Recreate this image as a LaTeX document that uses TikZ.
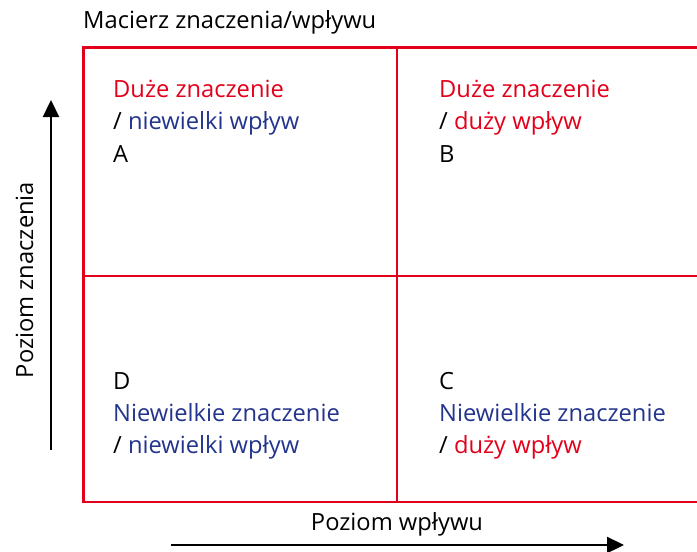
\documentclass[tikz,border=0pt]{standalone}
\usepackage{fontspec}
\setmainfont{Open Sans}
\usetikzlibrary{arrows.meta}
\definecolor{mred}{RGB}{226,0,26}
\definecolor{mblue}{RGB}{35,52,140}
\tikzset{
  grid/.style={draw=mred,line width=2.8pt},
  txt/.style={anchor=base west,inner sep=0pt,font=\fontsize{23.7}{28}\selectfont},
  axis/.style={draw=black,line width=2.3pt,-{Triangle[length=17pt,width=16pt]}}
}
\begin{document}
\begin{tikzpicture}[x=1pt,y=-1pt]
\useasboundingbox (0,0) rectangle (697,552);
% grid
\draw[grid] (699,47.7) -- (83.7,47.7) -- (83.7,502) -- (699,502);
\draw[grid] (397,47.7) -- (397,502);
\draw[grid] (83.7,276) -- (699,276);
% title
\node[txt] (title) at (83,28) {Macierz znaczenia/wpływu};
% A
\node[txt,text=mred] (a1) at (113,97) {Duże znaczenie};
\node[txt] (a2) at (113,129) {/ \textcolor{mblue}{niewielki wpływ}};
\node[txt] (a3) at (113,162) {A};
% B
\node[txt,text=mred] (b1) at (439,97) {Duże znaczenie};
\node[txt] (b2) at (439,129) {/ \textcolor{mred}{duży wpływ}};
\node[txt] (b3) at (439,162) {B};
% D
\node[txt] (d1) at (113,389) {D};
\node[txt,text=mblue] (d2) at (113,421) {Niewielkie znaczenie};
\node[txt] (d3) at (113,453) {/ \textcolor{mblue}{niewielki wpływ}};
% C
\node[txt] (c1) at (439,389) {C};
\node[txt,text=mblue] (c2) at (439,421) {Niewielkie znaczenie};
\node[txt] (c3) at (439,453) {/ \textcolor{mred}{duży wpływ}};
% axes
\coordinate (vs) at (51,450);
\coordinate (ve) at (51,100);
\draw[axis] (vs) -- (ve);
\coordinate (hs) at (171,545);
\coordinate (he) at (624,545);
\draw[axis] (hs) -- (he);
\node[txt,anchor=base] (xl) at (397,530) {Poziom wpływu};
\node[txt,anchor=base,rotate=90] (yl) at (33,280) {Poziom znaczenia};
\end{tikzpicture}
\end{document}
